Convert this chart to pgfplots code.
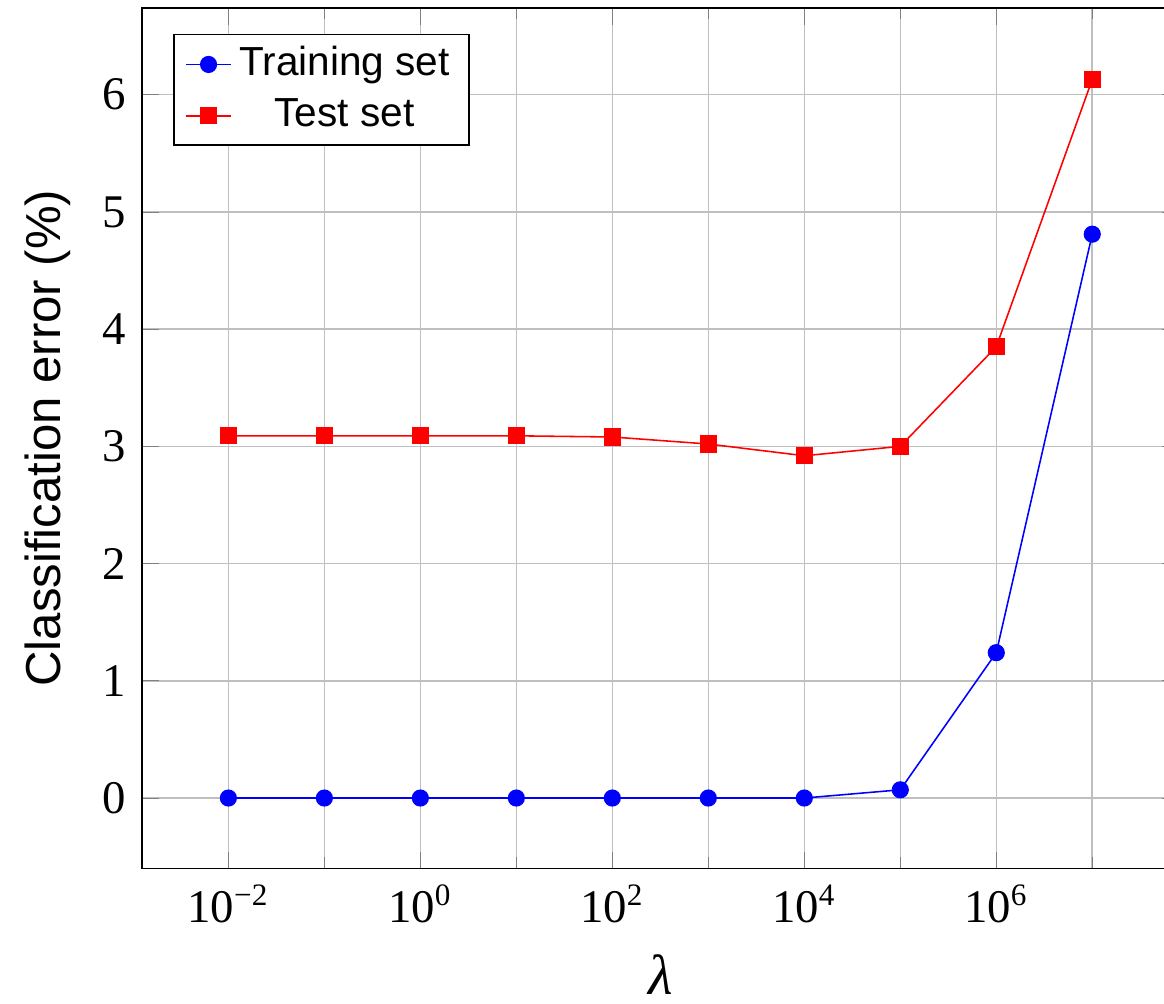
\documentclass[border=0pt,12pt]{standalone}
\usepackage{fontspec}
\setmainfont{Liberation Serif}
\setsansfont{Liberation Sans}
\usepackage{pgfplots}
\pgfplotsset{compat=1.18}
\begin{document}
\begin{tikzpicture}
\begin{axis}[
  scale only axis,
  width=265.8pt, height=220.6pt,
  xmode=log,
  xmin=1.2589e-3, xmax=7.943e7,
  ymin=-0.6, ymax=6.74,
  xtick={1e-2,1,1e2,1e4,1e6},
  xticklabels={10\textsuperscript{−2},10\textsuperscript{0},10\textsuperscript{2},10\textsuperscript{4},10\textsuperscript{6}},
  minor xtick={1e-1,1e1,1e3,1e5,1e7},
  ytick={0,1,2,3,4,5,6},
  yticklabels={0,1,2,3,4,5,6},
  grid=both,
  major grid style={black!25, line width=0.4pt},
  minor grid style={black!25, line width=0.4pt},
  xlabel={\fontsize{14.5}{17}\selectfont\itshape λ},
  ylabel={\sffamily\fontsize{12.6}{15}\selectfont Classification error (\%)},
  legend pos=north west,
  legend cell align=center,
  legend style={font=\sffamily\fontsize{10.4}{12}\selectfont, inner ysep=1pt},
  legend image code/.code={
    \draw[mark repeat=2,mark phase=2,#1] plot coordinates {(0cm,0cm) (0.2cm,0cm) (0.4cm,0cm)};
  },
]
\addplot[blue, mark=*, mark options={fill=blue}] coordinates {
  (1e-2,0) (1e-1,0) (1e0,0) (1e1,0) (1e2,0) (1e3,0) (1e4,0) (1e5,0.07) (1e6,1.24) (1e7,4.81)
};
\addlegendentry{Training set}
\addplot[red, mark=square*, mark options={fill=red}] coordinates {
  (1e-2,3.09) (1e-1,3.09) (1e0,3.09) (1e1,3.09) (1e2,3.08) (1e3,3.02) (1e4,2.92) (1e5,3.00) (1e6,3.85) (1e7,6.13)
};
\addlegendentry{Test set}
\end{axis}
\pgfresetboundingbox
\path[use as bounding box] ([xshift=-36.41pt,yshift=-34.62pt]current axis.south west) rectangle ([xshift=262.05pt,yshift=222.65pt]current axis.south west);
\end{tikzpicture}
\end{document}
